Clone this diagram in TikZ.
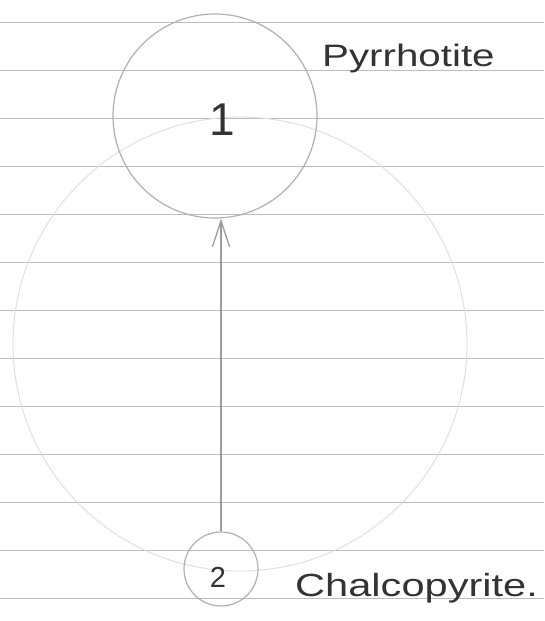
\documentclass[tikz,border=0pt]{standalone}
\usepackage{fontspec}
\setmainfont{Liberation Sans}
\usetikzlibrary{arrows.meta}
\definecolor{ruled}{HTML}{BDBDBD}
\definecolor{ringA}{HTML}{B0B0B0}
\definecolor{ringB}{HTML}{DEDEDE}
\definecolor{arrowgrey}{HTML}{9C9C9C}
\definecolor{pencil}{HTML}{333333}
\tikzset{
  x=1pt, y=-1pt,
  ruling/.style={draw=ruled, line width=0.9pt},
  ring/.style={circle, draw=ringA, line width=1.2pt, inner sep=0pt},
  bigring/.style={circle, draw=ringB, line width=0.9pt, inner sep=0pt},
  hand/.style={text=pencil, inner sep=0pt},
  arr/.style={draw=arrowgrey, line width=1.1pt, -{Straight Barb[length=26pt,width=17pt,line width=1.3pt]}}
}
\begin{document}
\begin{tikzpicture}
\useasboundingbox[fill=white] (0,0) rectangle (544,621);
\foreach \k in {0,...,12} {
  \draw[ruling] (0,22+48*\k) -- (544,22+48*\k);
}
\node[bigring, minimum size=454pt] (big) at (240,344) {};
\node[ring, minimum size=204pt] (n1) at (215,116) {};
\node[ring, minimum size=74pt] (n2) at (221,569) {};
\node[hand, anchor=base, font=\fontsize{46}{46}\selectfont] (one) at (222,135) {1};
\node[hand, anchor=base, font=\fontsize{29}{29}\selectfont] (two) at (218,587) {2};
\node[hand, anchor=base west, font=\fontsize{31}{31}\selectfont] (pyr) at (322,66) {\scalebox{1.3}[1]{Pyrrhotite}};
\node[hand, anchor=base west, font=\fontsize{32}{32}\selectfont] (chal) at (295,596) {\scalebox{1.3}[1]{Chalcopyrite.}};
\coordinate (tip) at (n2.north |- n1.south);
\draw[arr] (n2.north) -- (tip);
\end{tikzpicture}
\end{document}
